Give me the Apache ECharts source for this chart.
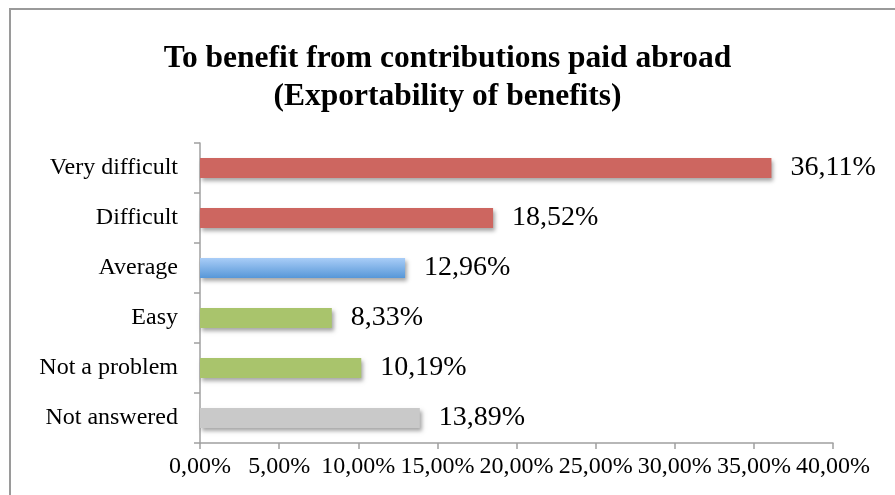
<!DOCTYPE html>
<html><head><meta charset="utf-8">
<script src="https://cdn.jsdelivr.net/npm/echarts@6/dist/echarts.min.js"></script>
<style>html,body{margin:0;padding:0;background:#fff}#c{width:895px;height:495px}</style>
</head><body><div id="c"></div>
<script>
const categories = ["Very difficult", "Difficult", "Average", "Easy", "Not a problem", "Not answered"];
const values = [36.11, 18.52, 12.96, 8.33, 10.19, 13.89];
const barColors = ["#cd6660", "#cd6660", "blue", "#a9c46c", "#a9c46c", "#c9c9c9"];
const xTicks = [0, 5, 10, 15, 20, 25, 30, 35, 40];
const FONT = "Liberation Serif";
const fmt = v => v.toFixed(2).replace('.', ',') + '%';
const chart = echarts.init(document.getElementById('c'), null, {renderer: 'canvas'});
const blueGrad = new echarts.graphic.LinearGradient(0, 0, 0, 1, [
  {offset: 0, color: '#a9cdf7'}, {offset: 1, color: '#5797d8'}]);
chart.setOption({
  animation: false,
  backgroundColor: '#fff',
  title: {
    text: 'To benefit from contributions paid abroad\n(Exportability of benefits)',
    left: 'center', top: 35,
    textStyle: {fontFamily: FONT, fontWeight: 'bold', fontSize: 31.5, lineHeight: 38, color: '#000'}
  },
  graphic: [{type: 'rect', shape: {x: 10, y: 9, width: 900, height: 500},
    style: {fill: 'none', stroke: '#9a9a9a', lineWidth: 2}, silent: true, z: -1}],
  grid: {left: 200, right: 62, top: 143, bottom: 52, containLabel: false},
  xAxis: {
    type: 'value', min: xTicks[0], max: xTicks[xTicks.length - 1], interval: xTicks[1] - xTicks[0],
    axisLine: {show: true, lineStyle: {color: '#a0a0a0', width: 1.5}},
    axisTick: {show: true, length: 6, lineStyle: {color: '#a0a0a0', width: 1.5}},
    splitLine: {show: false},
    axisLabel: {formatter: fmt, fontFamily: FONT, fontSize: 24, color: '#000', margin: 12}
  },
  yAxis: {
    type: 'category', data: categories, inverse: true,
    axisLine: {show: true, lineStyle: {color: '#a0a0a0', width: 1.5}},
    axisTick: {show: true, length: 6, lineStyle: {color: '#a0a0a0', width: 1.5}},
    axisLabel: {fontFamily: FONT, fontSize: 24, color: '#000', margin: 22}
  },
  series: [{
    type: 'bar', barWidth: 20,
    data: values.map((v, i) => ({value: v, itemStyle: {color: barColors[i] === 'blue' ? blueGrad : barColors[i]}})),
    itemStyle: {shadowColor: 'rgba(0,0,0,0.35)', shadowBlur: 4, shadowOffsetX: 2, shadowOffsetY: 3},
    label: {show: true, position: 'right', distance: 19, formatter: p => fmt(p.value),
      fontFamily: FONT, fontSize: 28, color: '#000'}
  }]
});
</script></body></html>
